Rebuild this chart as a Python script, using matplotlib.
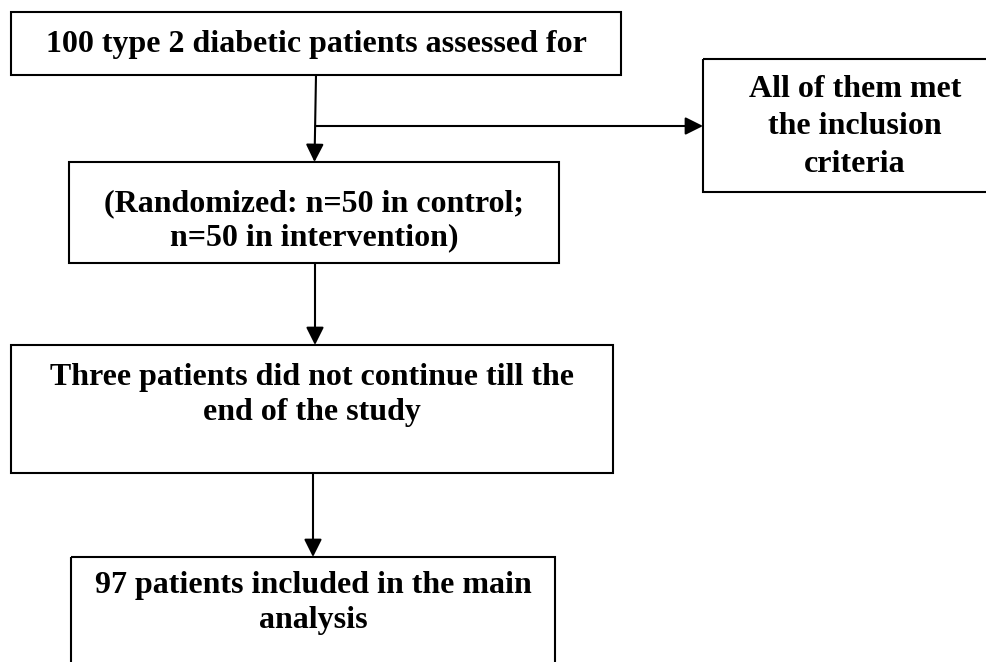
import matplotlib
matplotlib.use("Agg")
import matplotlib.pyplot as plt
from matplotlib.patches import Rectangle

# box texts (top to bottom, then the side box)
box_labels = [
    ["100 type 2 diabetic patients assessed for"],
    ["(Randomized: n=50 in control;", "n=50 in intervention)"],
    ["Three patients did not continue till the", "end of the study"],
    ["97 patients included in the main", "analysis"],
]
side_label = ["All of them met", "the inclusion", "criteria"]

# layout in pixels: (left, top, right, bottom), first baseline, line gap, text centre x
box_xy = [(11, 12, 621, 75), (69, 162, 559, 263), (11, 345, 613, 473), (71, 557, 555, 700)]
box_base = [52, 211, 385, 593]
box_gap = [36, 34, 35, 35]
box_tx = [316, 314, 312, 313]
side_xy = (703, 59, 1007, 192)
side_base = 97
side_gap = 37.5

W, H = 986, 662
fig = plt.figure(figsize=(W / 100, H / 100), dpi=100)
ax = fig.add_axes([0, 0, 1, 1])
ax.set_xlim(0, W)
ax.set_ylim(H, 0)
ax.axis("off")

font = dict(family=["Liberation Serif", "DejaVu Serif"], weight="bold", size=23)
lw = 1.5


def box(xy, lines, base, gap, cx):
    l, t, r, b = xy
    ax.add_patch(Rectangle((l, t), r - l, b - t, fill=False, ec="black", lw=lw))
    for i, s in enumerate(lines):
        ax.text(cx, base + i * gap, s, ha="center", va="baseline", **font)


for xy, lines, base, gap, cx in zip(box_xy, box_labels, box_base, box_gap, box_tx):
    box(xy, lines, base, gap, cx)
box(side_xy, side_label, side_base, side_gap, (side_xy[0] + side_xy[2]) / 2)

arrow = dict(arrowstyle="-|>,head_length=0.4,head_width=0.2", mutation_scale=27,
             color="black", lw=lw, shrinkA=0, shrinkB=0)


def arr(x0, y0, x1, y1):
    ax.annotate("", xy=(x1, y1), xytext=(x0, y0), arrowprops=arrow)


# box 1 -> box 2, with branch to the side box
arr(316, box_xy[0][3], 314.5, box_xy[1][1])
branch_y = 126
arr(315.5, branch_y, side_xy[0], branch_y)
arr(315, box_xy[1][3], 315, box_xy[2][1])
arr(313, box_xy[2][3], 313, box_xy[3][1])

fig.savefig("out.png", dpi=100, facecolor="white")
